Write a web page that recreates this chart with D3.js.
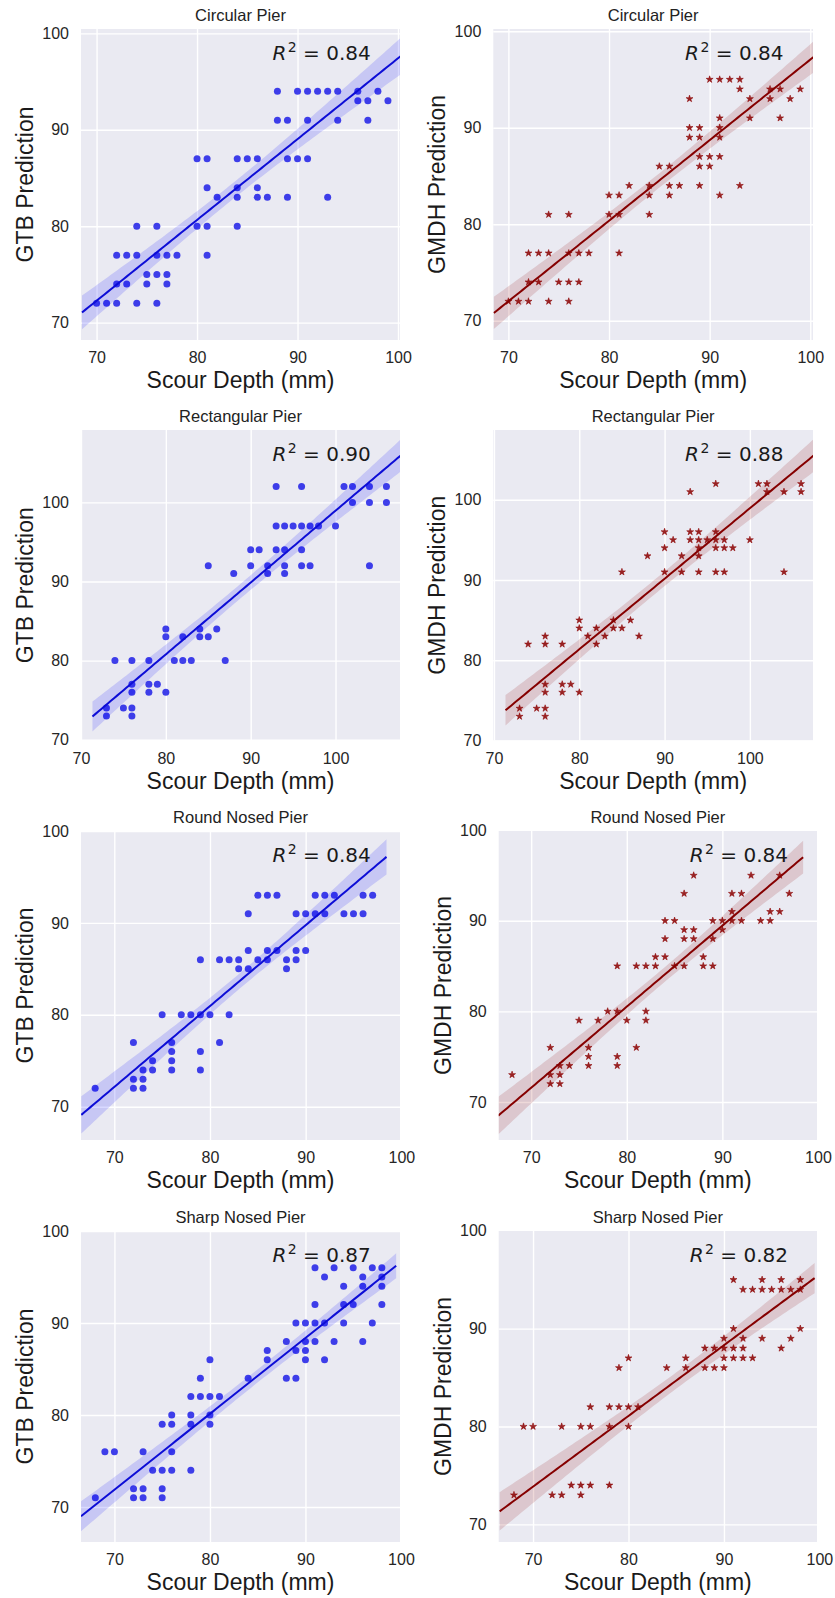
<!DOCTYPE html>
<html>
<head>
<meta charset="utf-8">
<script src="https://cdn.jsdelivr.net/npm/d3@7"></script>
<style>
  body { margin: 0; background: #ffffff; }
  svg { display: block; }
</style>
</head>
<body>
<svg id="fig" width="835" height="1598"></svg>
<script>
// ---------------------------------------------------------------
// Data: measured scour depth (mm) vs. model prediction (mm)
// ---------------------------------------------------------------
const pierTitles = ["Circular Pier", "Rectangular Pier", "Round Nosed Pier", "Sharp Nosed Pier"];
const modelLabels = ["GTB Prediction", "GMDH Prediction"];
const xAxisLabel = "Scour Depth (mm)";
const tickValues = [70, 80, 90, 100];
const r2Gtb = ["0.84", "0.90", "0.84", "0.87"];
const r2Gmdh = ["0.84", "0.88", "0.84", "0.82"];

// fitted regression lines: predicted value at 70 mm and at 100 mm
const gtbFit = [[72.27, 97.41], [71.71, 98.95], [72.15, 98.55], [71.88, 96.63]];
const gmdhFit = [[72.01, 97.06], [72.58, 98.95], [71.57, 98.40], [73.86, 95.53]];

const gtbCircular = [
  [70,72],[71,72],[72,72],[74,72],[76,72],
  [72,74],[73,74],[75,74],[77,74],
  [75,75],[76,75],[77,75],
  [72,77],[73,77],[74,77],[76,77],[77,77],[78,77],[81,77],
  [74,80],[76,80],[80,80],[81,80],[84,80],
  [82,83],[84,83],[86,83],[87,83],[89,83],[93,83],
  [81,84],[84,84],[86,84],
  [80,87],[81,87],[84,87],[85,87],[86,87],[89,87],[90,87],[91,87],
  [88,91],[89,91],[91,91],[94,91],[97,91],
  [96,93],[97,93],[99,93],
  [88,94],[90,94],[91,94],[92,94],[93,94],[94,94],[96,94],[98,94]
];

const gmdhCircular = [
  [70,72],[71,72],[72,72],[74,72],[76,72],
  [72,74],[73,74],[75,74],[76,74],[77,74],
  [72,77],[73,77],[74,77],[76,77],[77,77],[78,77],[81,77],
  [74,81],[76,81],[80,81],[81,81],[84,81],
  [80,83],[81,83],[84,83],[86,83],[91,83],
  [82,84],[84,84],[86,84],[87,84],[89,84],[93,84],
  [85,86],[86,86],[89,86],[90,86],
  [89,87],[90,87],[91,87],
  [88,89],[89,89],[91,89],
  [88,90],[89,90],[91,90],
  [91,91],[94,91],[97,91],
  [88,93],[94,93],[96,93],[98,93],
  [93,94],[96,94],[97,94],[99,94],
  [90,95],[91,95],[92,95],[93,95]
];

const gtbRectangular = [
  [73,73],[76,73],
  [73,74],[75,74],[76,74],
  [76,76],[78,76],[80,76],
  [76,77],[78,77],[79,77],
  [74,80],[76,80],[78,80],[81,80],[82,80],[83,80],[87,80],
  [80,83],[82,83],[84,83],[85,83],
  [80,84],[84,84],[86,84],
  [88,91],[92,91],[94,91],
  [85,92],[90,92],[92,92],[94,92],[96,92],[97,92],[104,92],
  [90,94],[91,94],[93,94],[94,94],[96,94],
  [93,97],[94,97],[95,97],[96,97],[97,97],[98,97],[100,97],
  [102,100],[104,100],[106,100],
  [93,102],[96,102],[101,102],[102,102],[104,102],[106,102]
];

const gmdhRectangular = [
  [73,73],[76,73],
  [73,74],[75,74],[76,74],
  [76,76],[78,76],[80,76],
  [76,77],[78,77],[79,77],
  [74,82],[76,82],[78,82],[82,82],
  [76,83],[81,83],[83,83],[87,83],
  [80,84],[82,84],[84,84],[85,84],
  [80,85],[84,85],[86,85],
  [85,91],[90,91],[92,91],[94,91],[96,91],[97,91],[104,91],
  [88,93],[92,93],[94,93],
  [90,94],[94,94],[96,94],[97,94],[98,94],
  [91,95],[93,95],[94,95],[95,95],[96,95],[97,95],[100,95],
  [90,96],[93,96],[94,96],[96,96],
  [93,101],[102,101],[104,101],[106,101],
  [96,102],[101,102],[102,102],[106,102]
];

const gtbRoundNosed = [
  [68,72],[72,72],[73,72],
  [72,73],[73,73],
  [73,74],[74,74],[76,74],[79,74],
  [74,75],[76,75],
  [76,76],[79,76],
  [72,77],[76,77],[81,77],
  [75,80],[77,80],[78,80],[79,80],[80,80],[82,80],
  [83,85],[84,85],[88,85],
  [79,86],[81,86],[82,86],[83,86],[85,86],[86,86],[88,86],[89,86],
  [84,87],[86,87],[87,87],[89,87],[90,87],
  [84,91],[89,91],[90,91],[91,91],[92,91],[94,91],[95,91],[96,91],
  [85,93],[86,93],[87,93],[91,93],[92,93],[93,93],[96,93],[97,93]
];

const gmdhRoundNosed = [
  [72,72],[73,72],
  [68,73],[72,73],[73,73],
  [73,74],[74,74],[76,74],[79,74],
  [76,75],[79,75],
  [72,76],[76,76],[81,76],
  [75,79],[77,79],[80,79],[82,79],
  [78,80],[79,80],[82,80],
  [79,85],[81,85],[82,85],[83,85],[85,85],[86,85],[88,85],[89,85],
  [83,86],[84,86],[88,86],
  [84,88],[86,88],[87,88],[89,88],
  [86,89],[87,89],[90,89],
  [84,90],[85,90],[89,90],[90,90],[91,90],[92,90],[94,90],[95,90],
  [91,91],[95,91],[96,91],
  [86,93],[91,93],[92,93],[97,93],
  [87,95],[93,95],[96,95]
];

const gtbSharpNosed = [
  [68,71],[72,71],[73,71],[75,71],
  [72,72],[73,72],[75,72],
  [74,74],[75,74],[76,74],[78,74],
  [69,76],[70,76],[73,76],[76,76],
  [75,79],[76,79],[78,79],[80,79],
  [76,80],[78,80],[80,80],
  [78,82],[79,82],[80,82],[81,82],
  [79,84],[84,84],[88,84],[89,84],
  [80,86],[86,86],[90,86],[92,86],
  [86,87],[89,87],[90,87],
  [88,88],[90,88],[91,88],[93,88],[96,88],
  [89,90],[90,90],[91,90],[92,90],[94,90],[97,90],
  [91,92],[94,92],[95,92],[98,92],
  [94,94],[96,94],[98,94],
  [92,95],[96,95],[98,95],
  [91,96],[93,96],[95,96],[97,96],[98,96]
];

const gmdhSharpNosed = [
  [68,73],[72,73],[73,73],[75,73],
  [74,74],[75,74],[76,74],[78,74],
  [69,80],[70,80],[73,80],[75,80],[76,80],[78,80],[80,80],
  [76,82],[78,82],[79,82],[80,82],[81,82],
  [79,86],[84,86],[86,86],[88,86],[89,86],[90,86],
  [80,87],[86,87],[90,87],[91,87],[92,87],[93,87],
  [88,88],[89,88],[90,88],[91,88],[92,88],[96,88],
  [90,89],[92,89],[94,89],[97,89],
  [91,90],[98,90],
  [92,94],[93,94],[94,94],[95,94],[96,94],[97,94],[98,94],
  [91,95],[94,95],[96,95],[98,95]
];

// axis limits of each panel (x then y), row by row, GTB then GMDH
const xLimits = [
  [68.45, 100.2], [68.5, 100.27],
  [70.0, 107.6],  [69.92, 107.4],
  [66.52, 99.86], [66.6, 99.9],
  [66.5, 99.9],   [66.4, 99.75]
];
const yLimits = [
  [68.2, 100.45], [68.0, 100.23],
  [69.9, 109.15], [70.0, 108.7],
  [66.38, 100.0], [65.8, 99.9],
  [66.2, 100.0],  [68.2, 99.98]
];

// ---------------------------------------------------------------
// Layout (pixel frames of every plotting area)
// ---------------------------------------------------------------
const rowFrames = [[29, 340], [430, 740.5], [831, 1140], [1231, 1542]];
const colFrames = [[[81, 400], [493.3, 813]], [[81, 400], [493.3, 813]],
                   [[81, 400], [498.7, 817]], [[81, 400], [498.7, 817]]];

const series = [
  gtbCircular, gmdhCircular,
  gtbRectangular, gmdhRectangular,
  gtbRoundNosed, gmdhRoundNosed,
  gtbSharpNosed, gmdhSharpNosed
];

const styles = [
  { color: "#1f1fe8", line: "#0d0dd6", band: "#0000ff", marker: "dot" },
  { color: "#8b0000", line: "#850000", band: "#8b0000", marker: "star" }
];

const textColor = "#262626";
const sansFont = "'Liberation Sans', Arial, Helvetica, sans-serif";
const mathFont = "'DejaVu Sans', sans-serif";

const svg = d3.select("#fig");
const defs = svg.append("defs");

// straight fit through the two stored predictions, with a 95% band
// for the mean built from the scatter about that fit
function fitLine(points, ends) {
  const slope = (ends[1] - ends[0]) / 30;
  const predict = v => ends[0] + slope * (v - 70);
  const n = points.length;
  const mx = d3.mean(points, d => d[0]);
  const sxx = d3.sum(points, d => (d[0] - mx) ** 2);
  const sse = d3.sum(points, d => (d[1] - predict(d[0])) ** 2);
  const s = Math.sqrt(sse / (n - 2));
  const t = 1.96;
  return {
    predict,
    halfWidth: v => t * s * Math.sqrt(1 / n + (v - mx) ** 2 / sxx)
  };
}

series.forEach((points, i) => {
  const row = Math.floor(i / 2);
  const col = i % 2;
  const [x0, x1] = colFrames[row][col];
  const [y0, y1] = rowFrames[row];
  const style = styles[col];

  const x = d3.scaleLinear().domain(xLimits[i]).range([x0, x1]);
  const y = d3.scaleLinear().domain(yLimits[i]).range([y1, y0]);

  const g = svg.append("g").attr("class", "panel");

  const clipId = "clip" + i;
  defs.append("clipPath").attr("id", clipId)
    .append("rect").attr("x", x0).attr("y", y0).attr("width", x1 - x0).attr("height", y1 - y0);

  // face
  g.append("rect")
    .attr("x", x0).attr("y", y0).attr("width", x1 - x0).attr("height", y1 - y0)
    .attr("fill", "#eaeaf2");

  // grid via axes with full-length ticks
  const xGrid = g.append("g")
    .attr("transform", `translate(0,${y1})`)
    .call(d3.axisBottom(x).tickValues(tickValues.filter(v => v >= xLimits[i][0] && v <= xLimits[i][1]))
      .tickSize(-(y1 - y0)).tickFormat(""));
  const yGrid = g.append("g")
    .attr("transform", `translate(${x0},0)`)
    .call(d3.axisLeft(y).tickValues(tickValues.filter(v => v >= yLimits[i][0] && v <= yLimits[i][1]))
      .tickSize(-(x1 - x0)).tickFormat(""));
  [xGrid, yGrid].forEach(a => {
    a.select(".domain").remove();
    a.selectAll(".tick line").attr("stroke", "#ffffff").attr("stroke-width", 1.4);
  });

  // tick labels
  const xAxis = g.append("g")
    .attr("transform", `translate(0,${y1})`)
    .call(d3.axisBottom(x).tickValues(tickValues).tickSize(0).tickPadding(12));
  const yAxis = g.append("g")
    .attr("transform", `translate(${x0},0)`)
    .call(d3.axisLeft(y).tickValues(tickValues).tickSize(0).tickPadding(12));
  [xAxis, yAxis].forEach(a => {
    a.select(".domain").remove();
    a.selectAll("text")
      .attr("font-family", sansFont).attr("font-size", 16).attr("fill", textColor);
  });

  // data layer clipped to the plotting area
  const plot = g.append("g").attr("clip-path", `url(#${clipId})`);

  if (style.marker === "dot") {
    plot.selectAll("circle").data(points).join("circle")
      .attr("cx", d => x(d[0])).attr("cy", d => y(d[1]))
      .attr("r", 3.5)
      .attr("fill", style.color).attr("fill-opacity", 0.85);
  } else {
    const star = d3.symbol().type(d3.symbolStar).size(15);
    plot.selectAll("path.pt").data(points).join("path")
      .attr("class", "pt")
      .attr("d", star)
      .attr("transform", d => `translate(${x(d[0])},${y(d[1])})`)
      .attr("fill", style.color).attr("fill-opacity", 0.85)
      .attr("stroke", style.color).attr("stroke-width", 0.6).attr("stroke-opacity", 0.9);
  }

  // regression fit drawn over the data range padded by 5%
  const fit = fitLine(points, col === 0 ? gtbFit[row] : gmdhFit[row]);
  const [dMin, dMax] = d3.extent(points, d => d[0]);
  const pad = 0.05 * (dMax - dMin);
  const grid = d3.range(0, 101).map(k => dMin - pad + (dMax - dMin + 2 * pad) * k / 100);

  plot.append("path")
    .datum(grid)
    .attr("d", d3.area()
      .x(v => x(v))
      .y0(v => y(fit.predict(v) - fit.halfWidth(v)))
      .y1(v => y(fit.predict(v) + fit.halfWidth(v))))
    .attr("fill", style.band).attr("fill-opacity", 0.15);

  plot.append("path")
    .datum(grid)
    .attr("d", d3.line().x(v => x(v)).y(v => y(fit.predict(v))))
    .attr("fill", "none").attr("stroke", style.line).attr("stroke-width", 2);

  // R² annotation at 60% / 90% of the axes
  const r2 = col === 0 ? r2Gtb[row] : r2Gmdh[row];
  const label = g.append("text")
    .attr("x", x0 + 0.6 * (x1 - x0))
    .attr("y", y1 - 0.9 * (y1 - y0))
    .attr("font-family", mathFont).attr("font-size", 20).attr("fill", "#1a1a1a");
  label.append("tspan").attr("font-style", "italic").text("R");
  label.append("tspan").attr("font-size", 14).attr("dy", -8).attr("dx", 1.5).text("2");
  label.append("tspan").attr("dy", 8).text(" = " + r2);

  // title
  g.append("text")
    .attr("x", (x0 + x1) / 2).attr("y", y0 - 8)
    .attr("text-anchor", "middle")
    .attr("font-family", sansFont).attr("font-size", 16.5).attr("fill", "#222222")
    .text(pierTitles[row]);

  // axis titles
  g.append("text")
    .attr("x", (x0 + x1) / 2).attr("y", y1 + 48)
    .attr("text-anchor", "middle")
    .attr("font-family", sansFont).attr("font-size", 23).attr("fill", "#1a1a1a")
    .text(xAxisLabel);

  g.append("text")
    .attr("transform", `translate(${x0 - 48},${(y0 + y1) / 2}) rotate(-90)`)
    .attr("text-anchor", "middle")
    .attr("font-family", sansFont).attr("font-size", 23).attr("fill", "#1a1a1a")
    .text(modelLabels[col]);
});
</script>
</body>
</html>
